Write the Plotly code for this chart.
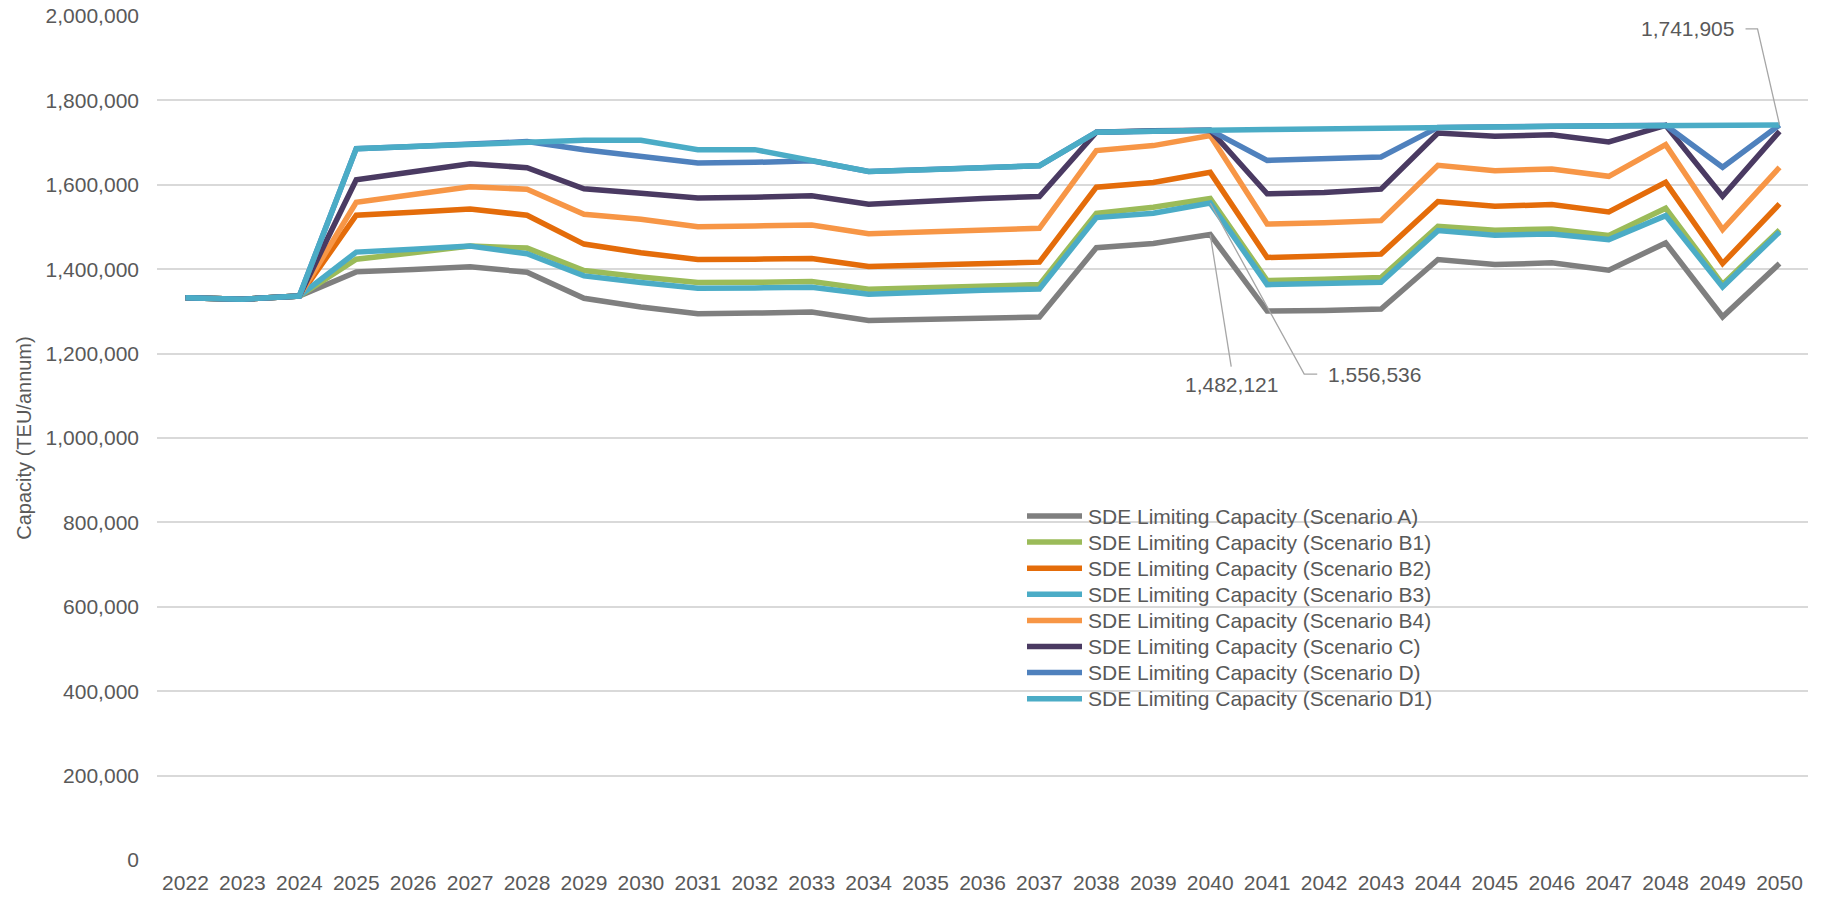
import plotly.graph_objects as go

# Years on the category axis
years = list(range(2022, 2051))

# SDE limiting capacity by scenario (TEU/annum)
scenario_a = [1332500, 1329000, 1336500, 1393700, 1399500, 1405600, 1392900, 1331000, 1310300, 1294400,
              1296000, 1298400, 1278600, 1280200, 1283300, 1286500, 1450800, 1461100, 1482121, 1300800,
              1302400, 1305600, 1422900, 1411000, 1415000, 1397600, 1462300, 1287200, 1413400]
scenario_b1 = [1332500, 1329000, 1336500, 1423800, 1439000, 1454800, 1450000, 1396800, 1381700, 1368300,
               1369000, 1370600, 1352400, 1356300, 1361100, 1363500, 1532500, 1546800, 1567500, 1373000,
               1376200, 1380200, 1501800, 1492300, 1495500, 1479700, 1544400, 1364000, 1493000]
scenario_b2 = [1332500, 1329000, 1336500, 1527800, 1535000, 1542900, 1527800, 1459500, 1438900, 1423000,
               1423800, 1425400, 1406300, 1409500, 1411900, 1416700, 1594400, 1605600, 1629400, 1427800,
               1431000, 1435700, 1560200, 1549100, 1553100, 1535700, 1605900, 1413400, 1554600]
scenario_b3 = [1332500, 1329000, 1336500, 1440500, 1447500, 1454800, 1436500, 1384100, 1368300, 1354800,
               1355600, 1357100, 1340500, 1346000, 1350000, 1353200, 1522200, 1532500, 1556536, 1363500,
               1365900, 1369000, 1491500, 1480500, 1483600, 1470200, 1527000, 1358000, 1488400]
scenario_b4 = [1332500, 1329000, 1336500, 1558700, 1577000, 1595200, 1589700, 1530200, 1518300, 1500800,
               1502400, 1504800, 1484100, 1487300, 1491300, 1496800, 1681000, 1692900, 1716700, 1507100,
               1510300, 1515100, 1646200, 1633500, 1637500, 1620100, 1695100, 1493900, 1641400]
scenario_c = [1332500, 1329000, 1336500, 1611900, 1631000, 1650000, 1640500, 1590500, 1580200, 1569000,
              1570600, 1573800, 1553900, 1561900, 1567500, 1572200, 1724600, 1727800, 1729400, 1578600,
              1581700, 1589700, 1722700, 1714800, 1718700, 1701400, 1740800, 1572800, 1726600]
scenario_d = [1332500, 1329000, 1336500, 1685700, 1691000, 1696800, 1702400, 1683300, 1667500, 1651600,
              1653200, 1657100, 1631700, 1635700, 1640500, 1645200, 1724600, 1727800, 1729400, 1657900,
              1661900, 1665900, 1736100, 1736900, 1738500, 1739300, 1740800, 1641400, 1741905]
scenario_d1 = [1332500, 1329000, 1336500, 1685700, 1691000, 1696800, 1702400, 1705600, 1705600, 1683300,
               1683300, 1657100, 1631700, 1635700, 1640500, 1645200, 1724600, 1727800, 1729400, 1730900,
               1731700, 1732500, 1736100, 1736900, 1738500, 1739300, 1740800, 1741000, 1741905]

series_names = ["SDE Limiting Capacity (Scenario A)", "SDE Limiting Capacity (Scenario B1)",
                "SDE Limiting Capacity (Scenario B2)", "SDE Limiting Capacity (Scenario B3)",
                "SDE Limiting Capacity (Scenario B4)", "SDE Limiting Capacity (Scenario C)",
                "SDE Limiting Capacity (Scenario D)", "SDE Limiting Capacity (Scenario D1)"]
series_values = [scenario_a, scenario_b1, scenario_b2, scenario_b3,
                 scenario_b4, scenario_c, scenario_d, scenario_d1]
series_colors = ["#7F7F7F", "#9BBB59", "#E46C0A", "#4BACC6",
                 "#F79646", "#4A3A62", "#4F81BD", "#4BACC6"]

FONT = "Liberation Sans, Arial, sans-serif"
TEXT = "#595959"
GRID = "#D9D9D9"
LEADER = "#A6A6A6"

W, H = 1822, 899
M_L, M_R, M_T, M_B = 157, 14, 16, 39
PLOT_W = W - M_L - M_R
PLOT_H = H - M_T - M_B


def px_to_paper(px, py):
    return (px - M_L) / PLOT_W, (H - M_B - py) / PLOT_H


fig = go.Figure()
for name, vals, col in zip(series_names, series_values, series_colors):
    fig.add_trace(go.Scatter(x=years, y=vals, name=name, mode="lines", showlegend=False,
                             line=dict(color=col, width=5.5, shape="linear")))

# Legend block: a short coloured swatch followed by the series name, one row per series
LEG_X0, LEG_X1, LEG_TEXT_X = 1027, 1082, 1086
LEG_ROW0, LEG_STEP = 516, 26.1
for i, (name, col) in enumerate(zip(series_names, series_colors)):
    row_y = LEG_ROW0 + i * LEG_STEP
    x0, yp = px_to_paper(LEG_X0, row_y)
    x1, _ = px_to_paper(LEG_X1, row_y)
    xt, _ = px_to_paper(LEG_TEXT_X, row_y)
    fig.add_shape(type="line", xref="paper", yref="paper", x0=x0, x1=x1, y0=yp, y1=yp,
                  line=dict(color=col, width=5.5), layer="above")
    fig.add_annotation(x=xt, y=yp, xref="paper", yref="paper", text=name, showarrow=False,
                       xanchor="left", yanchor="middle",
                       font=dict(family=FONT, size=21, color=TEXT))

# Callout labels: (year, value, leader path in px, text offset, anchors)
callouts = [
    (2050, scenario_d1[years.index(2050)], "M0,0 L-22,96 L-34,96", -44, 96, "right", "middle"),
    (2040, scenario_a[years.index(2040)], "M0,0 L21,-132", 21, -136, "center", "top"),
    (2040, scenario_b3[years.index(2040)], "M0,0 L94,-171 L107,-171", 116, -171, "left", "middle"),
]
for yr, val, path, dx, dy, xa, ya in callouts:
    fig.add_shape(type="path", xref="x", yref="y", xsizemode="pixel", ysizemode="pixel",
                  xanchor=yr, yanchor=val, path=path,
                  line=dict(color=LEADER, width=1.3), layer="above")
    fig.add_annotation(x=yr, y=val, xref="x", yref="y", text=f"{val:,}", showarrow=False,
                       xanchor=xa, yanchor=ya, xshift=dx, yshift=dy,
                       font=dict(family=FONT, size=21, color=TEXT))

fig.update_layout(
    width=W, height=H,
    margin=dict(l=M_L, r=M_R, t=M_T, b=M_B, autoexpand=False),
    paper_bgcolor="white", plot_bgcolor="white",
    font=dict(family=FONT, size=21, color=TEXT),
    showlegend=False,
    xaxis=dict(range=[2021.5, 2050.5], tickmode="array", tickvals=years,
               ticktext=[str(y) for y in years], showgrid=False, zeroline=False,
               showline=False, ticks="", ticklabelstandoff=8, automargin=False,
               tickfont=dict(family=FONT, size=21, color=TEXT)),
    yaxis=dict(range=[0, 2000000], tickmode="linear", tick0=0, dtick=200000,
               tickformat=",d", showgrid=True, gridcolor=GRID, gridwidth=2,
               zeroline=False, showline=False, ticks="", ticklabelstandoff=17,
               automargin=False,
               tickfont=dict(family=FONT, size=21, color=TEXT),
               title=dict(text="Capacity (TEU/annum)", standoff=8,
                          font=dict(family=FONT, size=20, color=TEXT))),
)

fig.write_html("out.html")
